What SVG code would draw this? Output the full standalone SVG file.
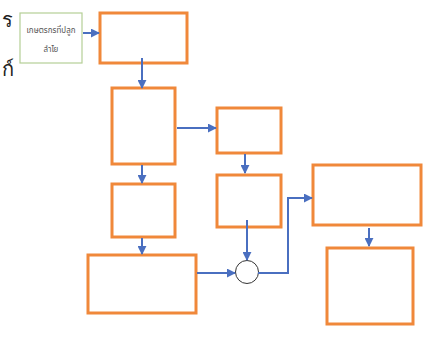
<svg xmlns="http://www.w3.org/2000/svg" width="430" height="338" viewBox="0 0 430 338">
<style>
.box{fill:#ffffff;stroke:#f0883a;stroke-width:3}
.src{fill:#ffffff;stroke:#b5cf96;stroke-width:1.2}
.con{fill:none;stroke:#4a6fc0;stroke-width:2}
.t{font-family:"Noto Sans","Noto Sans Thai","DejaVu Sans",sans-serif;fill:#555;}
.edge{font-family:"Noto Sans","DejaVu Sans",sans-serif;fill:#222;font-size:20px}
</style>
<defs>
<marker id="ah" viewBox="0 0 10 10" refX="9" refY="5" markerWidth="4.5" markerHeight="4.5" orient="auto" markerUnits="strokeWidth">
<path d="M0,0 L10,5 L0,10 z" fill="#4a6fc0"/>
</marker>
</defs>
<rect width="430" height="338" fill="#ffffff"/>
<text class="edge" x="2" y="27">ร</text>
<text class="edge" x="2" y="76">ก์</text>
<g id="source">
<rect class="src" x="20" y="13" width="62" height="50"/>
<text class="t" x="51" y="33" font-size="8" text-anchor="middle">เกษตรกรที่ปลูก</text>
<text class="t" x="51" y="52" font-size="8" text-anchor="middle">ลำไย</text>
</g>
<g id="n1"><rect class="box" x="100" y="13" width="87" height="50"/></g>
<g id="n2"><rect class="box" x="112" y="88" width="63" height="76"/></g>
<g id="n3"><rect class="box" x="217" y="108" width="64" height="45"/></g>
<g id="n4"><rect class="box" x="217" y="175" width="64" height="52"/></g>
<g id="n5"><rect class="box" x="112" y="184" width="63" height="53"/></g>
<g id="n6"><rect class="box" x="88" y="255" width="108" height="58"/></g>
<g id="n7"><rect class="box" x="313" y="165" width="108" height="60"/></g>
<g id="n8"><rect class="box" x="327" y="248" width="86" height="76"/></g>
<g id="junction"><circle cx="247" cy="272" r="11.5" fill="#ffffff" stroke="#333" stroke-width="1"/></g>
<g id="connectors">
<path class="con" d="M83,33 L99,33" marker-end="url(#ah)"/>
<path class="con" d="M142,58 L142,88" marker-end="url(#ah)"/>
<path class="con" d="M177,128 L216,128" marker-end="url(#ah)"/>
<path class="con" d="M245,154 L245,173" marker-end="url(#ah)"/>
<path class="con" d="M142,165 L142,183" marker-end="url(#ah)"/>
<path class="con" d="M142,238 L142,254" marker-end="url(#ah)"/>
<path class="con" d="M197,273 L235,273" marker-end="url(#ah)"/>
<path class="con" d="M247,220 L247,260" marker-end="url(#ah)"/>
<path class="con" d="M258,273 L288,273 L288,198 L312,198" marker-end="url(#ah)"/>
<path class="con" d="M369,228 L369,246" marker-end="url(#ah)"/>
</g>
</svg>
